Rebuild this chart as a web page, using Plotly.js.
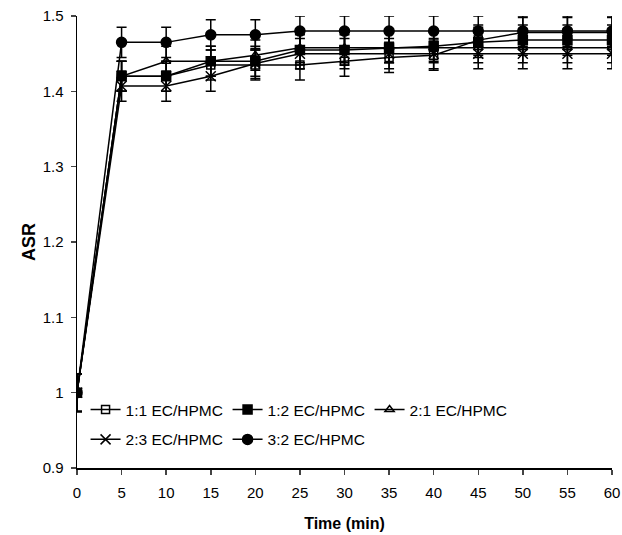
<!DOCTYPE html>
<html>
<head>
<meta charset="utf-8">
<script src="https://cdn.plot.ly/plotly-3.0.1.min.js"></script>
<style>html,body{margin:0;padding:0;background:#fff;}#chart{width:622px;height:535px;}</style>
</head>
<body>
<div id="chart"></div>
<script>
const time = [0, 5, 10, 15, 20, 25, 30, 35, 40, 45, 50, 55, 60];
const seriesNames = ["1:1 EC/HPMC", "1:2 EC/HPMC", "2:1 EC/HPMC", "2:3 EC/HPMC", "3:2 EC/HPMC"];
const asr_1_1 = [1.0, 1.42, 1.42, 1.435, 1.435, 1.435, 1.44, 1.445, 1.448, 1.468, 1.478, 1.478, 1.478];
const asr_1_2 = [1.0, 1.42, 1.42, 1.44, 1.44, 1.455, 1.455, 1.458, 1.46, 1.465, 1.468, 1.468, 1.468];
const asr_2_1 = [1.0, 1.42, 1.44, 1.44, 1.448, 1.458, 1.458, 1.458, 1.458, 1.458, 1.458, 1.458, 1.458];
const asr_2_3 = [1.0, 1.407, 1.407, 1.42, 1.437, 1.45, 1.45, 1.45, 1.45, 1.45, 1.45, 1.45, 1.45];
const asr_3_2 = [1.0, 1.465, 1.465, 1.475, 1.475, 1.48, 1.48, 1.48, 1.48, 1.48, 1.48, 1.48, 1.48];
const err_1_1 = [0.025, 0.02, 0.02, 0.02, 0.02, 0.02, 0.02, 0.02, 0.02, 0.02, 0.02, 0.02, 0.02];
const err_1_2 = [0.025, 0.02, 0.02, 0.02, 0.02, 0.02, 0.02, 0.02, 0.02, 0.02, 0.02, 0.02, 0.02];
const err_2_1 = [0.025, 0.02, 0.02, 0.02, 0.02, 0.02, 0.02, 0.02, 0.02, 0.02, 0.02, 0.02, 0.02];
const err_2_3 = [0.025, 0.02, 0.02, 0.02, 0.02, 0.02, 0.02, 0.02, 0.02, 0.02, 0.02, 0.02, 0.02];
const err_3_2 = [0.025, 0.02, 0.02, 0.02, 0.02, 0.02, 0.02, 0.02, 0.02, 0.02, 0.02, 0.02, 0.02];
const xTicks = [0, 5, 10, 15, 20, 25, 30, 35, 40, 45, 50, 55, 60];
const yTicks = [0.9, 1.0, 1.1, 1.2, 1.3, 1.4, 1.5];
const yTickText = ["0.9", "1", "1.1", "1.2", "1.3", "1.4", "1.5"];

const values = [asr_1_1, asr_1_2, asr_2_1, asr_2_3, asr_3_2];
const errs = [err_1_1, err_1_2, err_2_1, err_2_3, err_3_2];
const symbols = ["square-open", "square", "triangle-up-open", "x-thin-open", "circle"];
const sizes = [8, 9, 8, 10, 10];
const legends = ["legend", "legend", "legend", "legend2", "legend2"];

const traces = values.map((v, i) => ({
  x: time, y: v, name: seriesNames[i], type: "scatter", mode: "lines+markers",
  legend: legends[i],
  line: {color: "#000", width: 1.5},
  marker: {symbol: symbols[i], size: sizes[i], color: "#000",
           line: {color: "#000", width: 1.5}},
  error_y: {type: "data", array: errs[i], visible: true, color: "#000", thickness: 1.5, width: 5}
}));

const font = {family: "Liberation Sans, Arial, sans-serif", size: 15, color: "#000"};
const legFont = {family: "Liberation Sans, Arial, sans-serif", size: 15.5, color: "#000"};
const layout = {
  width: 622, height: 535,
  margin: {l: 77, r: 10, t: 16, b: 67},
  paper_bgcolor: "#fff", plot_bgcolor: "#fff",
  font: font,
  showlegend: true,
  legend: {orientation: "h", x: 0.016, xanchor: "left", y: 0.166, yanchor: "top",
           bgcolor: "rgba(0,0,0,0)", font: legFont, entrywidth: 97, itemwidth: 30, traceorder: "normal"},
  legend2: {orientation: "h", x: 0.016, xanchor: "left", y: 0.1, yanchor: "top",
           bgcolor: "rgba(0,0,0,0)", font: legFont, entrywidth: 97, itemwidth: 30, traceorder: "normal"},
  xaxis: {range: [0, 60], tickvals: xTicks, ticks: "outside", ticklen: 5, tickwidth: 1.5,
          ticklabelstandoff: 5,
          showline: true, linecolor: "#000", linewidth: 1.5, showgrid: false, zeroline: false,
          tickfont: font,
          title: {text: "<b>Time (min)</b>", font: {family: font.family, size: 16, color: "#000"}, standoff: 18}},
  yaxis: {range: [0.9, 1.5], tickvals: yTicks, ticktext: yTickText, ticks: "outside", ticklen: 5, tickwidth: 1.5,
          ticklabelstandoff: 4,
          showline: true, linecolor: "#000", linewidth: 1.5, showgrid: false, zeroline: false,
          tickfont: font,
          title: {text: "<b>ASR</b>", font: {family: font.family, size: 18, color: "#000"}, standoff: 2}}
};

Plotly.newPlot("chart", traces, layout, {displayModeBar: false, staticPlot: true});
</script>
</body>
</html>
